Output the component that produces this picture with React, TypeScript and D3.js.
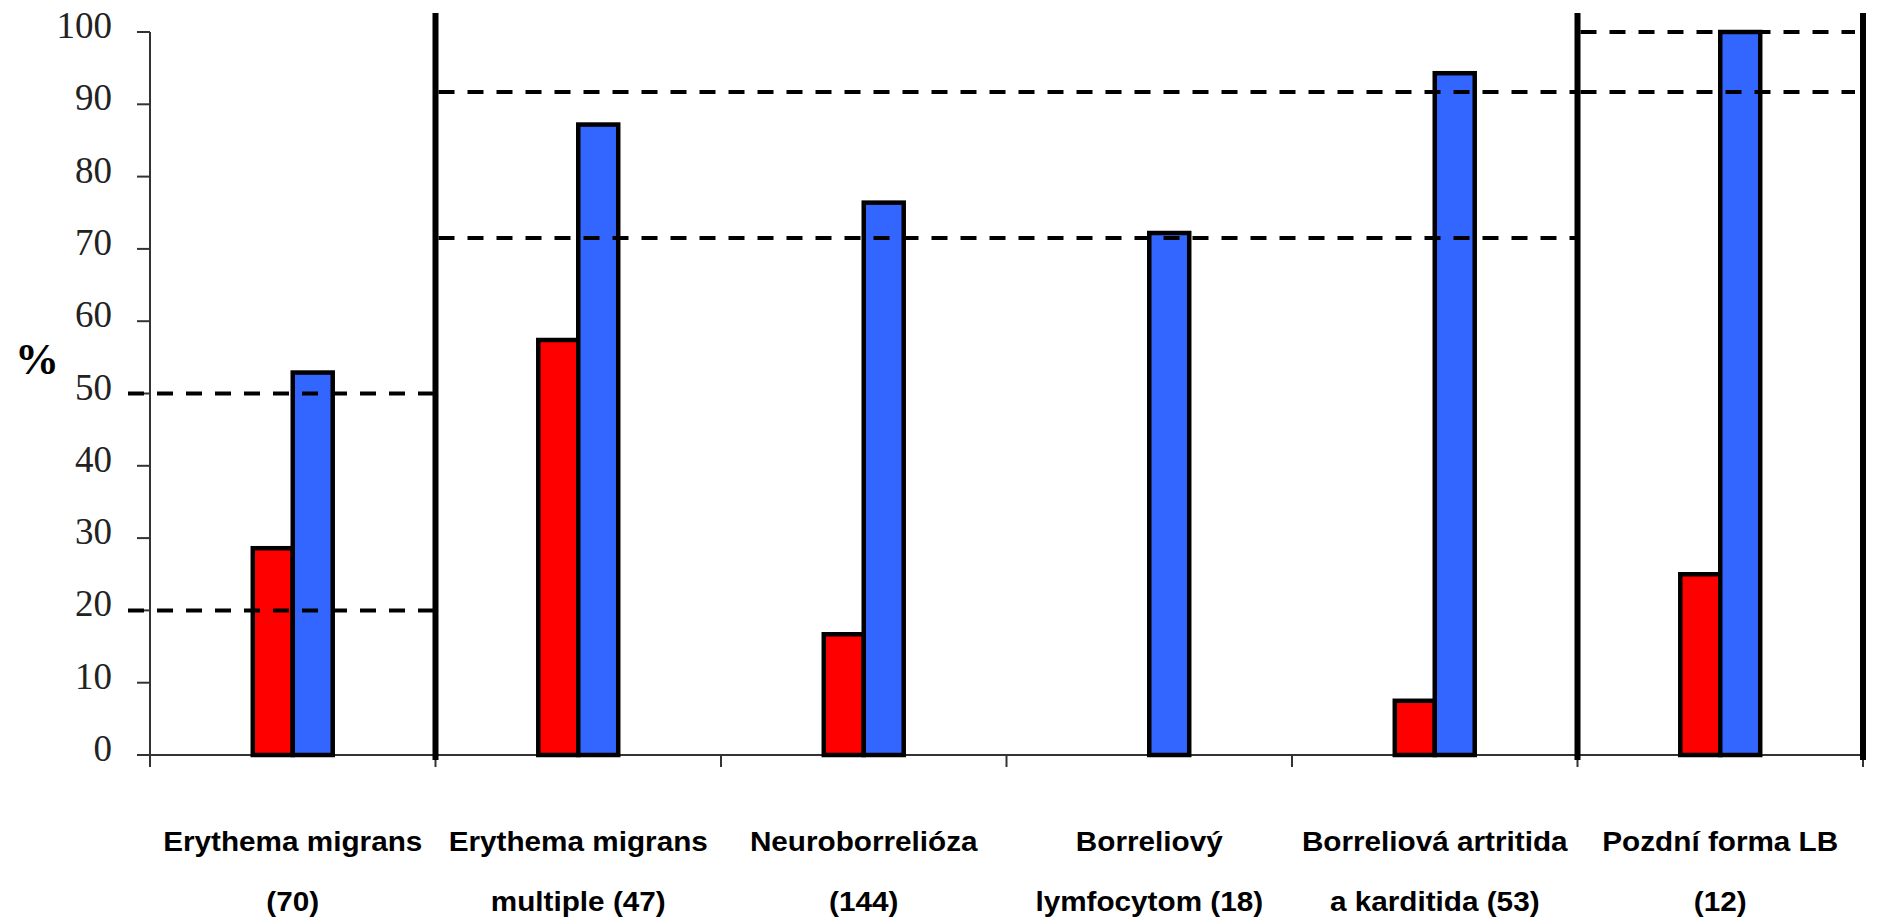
import React from "react";
import * as d3 from "d3";

const categoriesLine1 = [
  "Erythema migrans",
  "Erythema migrans",
  "Neuroborrelióza",
  "Borreliový",
  "Borreliová artritida",
  "Pozdní forma LB",
];
const categoriesLine2 = [
  "(70)",
  "multiple (47)",
  "(144)",
  "lymfocytom (18)",
  "a karditida (53)",
  "(12)",
];
const redValues = [28.6, 57.4, 16.7, 0, 7.5, 25];
const blueValues = [52.9, 87.2, 76.4, 72.2, 94.3, 100];
const yTicks = [0, 10, 20, 30, 40, 50, 60, 70, 80, 90, 100];

// reference intervals (dashed lines) per group of categories
const ciFirst = [0, 1, 5];
const ciLast = [0, 4, 5];
const ciLower = [20, 71.5, 91.7];
const ciUpper = [50, 91.7, 100];
// thick separators at these category boundaries
const separatorBoundaries = [1, 5, 6];

const W = 1877;
const H = 918;

export default function App() {
  const idx = categoriesLine1.map((_, i) => String(i));
  const x = d3.scaleBand<string>().domain(idx).range([150, 1863]).padding(0);
  const y = d3.scaleLinear().domain([0, 100]).range([755, 32]);
  const bw = x.bandwidth();
  const barW = bw * 0.14;
  const boundaryX = (b: number) => (b < idx.length ? (x(String(b)) as number) : (x(String(idx.length - 1)) as number) + bw);

  const dash = "16,13";
  const labelFont = "'Liberation Sans', Arial, sans-serif";

  return (
    <svg width={W} height={H} style={{ position: "absolute", left: 0, top: 0, background: "#fff" }}>
      <rect x={0} y={0} width={W} height={H} fill="#fff" />

      {/* y axis */}
      <line x1={150} x2={150} y1={y(100)} y2={y(0)} stroke="#333" strokeWidth={2} />
      {yTicks.map((t) => (
        <g key={t}>
          <line x1={137} x2={150} y1={y(t)} y2={y(t)} stroke="#333" strokeWidth={2} />
          <text
            x={112}
            y={y(t) + 6}
            textAnchor="end"
            fontFamily="'Liberation Serif', 'Times New Roman', serif"
            fontSize={37}
            fill="#222"
          >
            {t}
          </text>
        </g>
      ))}
      <text
        x={15}
        y={374}
        fontFamily="'Liberation Serif', 'Times New Roman', serif"
        fontSize={44}
        fontWeight="bold"
        fill="#000"
      >
        %
      </text>

      {/* x axis */}
      <line x1={138} x2={1863} y1={y(0)} y2={y(0)} stroke="#333" strokeWidth={2} />
      {d3.range(idx.length + 1).map((b) => (
        <line key={b} x1={boundaryX(b)} x2={boundaryX(b)} y1={y(0)} y2={y(0) + 12} stroke="#333" strokeWidth={2} />
      ))}

      {/* bars */}
      {idx.map((k, i) => {
        const cx = (x(k) as number) + bw / 2;
        return (
          <g key={k}>
            {redValues[i] > 0 && (
              <rect
                x={cx - barW}
                y={y(redValues[i])}
                width={barW}
                height={y(0) - y(redValues[i])}
                fill="#ff0000"
                stroke="#000"
                strokeWidth={4.5}
              />
            )}
            <rect
              x={cx}
              y={y(blueValues[i])}
              width={barW}
              height={y(0) - y(blueValues[i])}
              fill="#3366ff"
              stroke="#000"
              strokeWidth={4.5}
            />
          </g>
        );
      })}

      {/* dashed reference intervals */}
      {ciFirst.map((f, g) => {
        const l = ciLast[g];
        const x1 = f === 0 ? 128 : boundaryX(f) + 3;
        const x2 = l === idx.length - 1 ? boundaryX(l + 1) - 8 : boundaryX(l + 1) - 2;
        return (
          <g key={g}>
            {[ciLower[g], ciUpper[g]].map((v, j) => (
              <line
                key={j}
                x1={x1}
                x2={x2}
                y1={y(v)}
                y2={y(v)}
                stroke="#000"
                strokeWidth={4}
                strokeDasharray={dash}
              />
            ))}
          </g>
        );
      })}

      {/* separators */}
      {separatorBoundaries.map((b) => (
        <line key={b} x1={boundaryX(b)} x2={boundaryX(b)} y1={13} y2={760} stroke="#000" strokeWidth={6} />
      ))}

      {/* category labels */}
      {idx.map((k, i) => {
        const cx = (x(k) as number) + bw / 2;
        return (
          <g key={k} transform={`translate(${cx},0) scale(1.1,1)`}>
            <text x={0} y={851} textAnchor="middle" fontFamily={labelFont} fontSize={27} fontWeight="bold" fill="#000">
              {categoriesLine1[i]}
            </text>
            <text x={0} y={911} textAnchor="middle" fontFamily={labelFont} fontSize={27} fontWeight="bold" fill="#000">
              {categoriesLine2[i]}
            </text>
          </g>
        );
      })}
    </svg>
  );
}
